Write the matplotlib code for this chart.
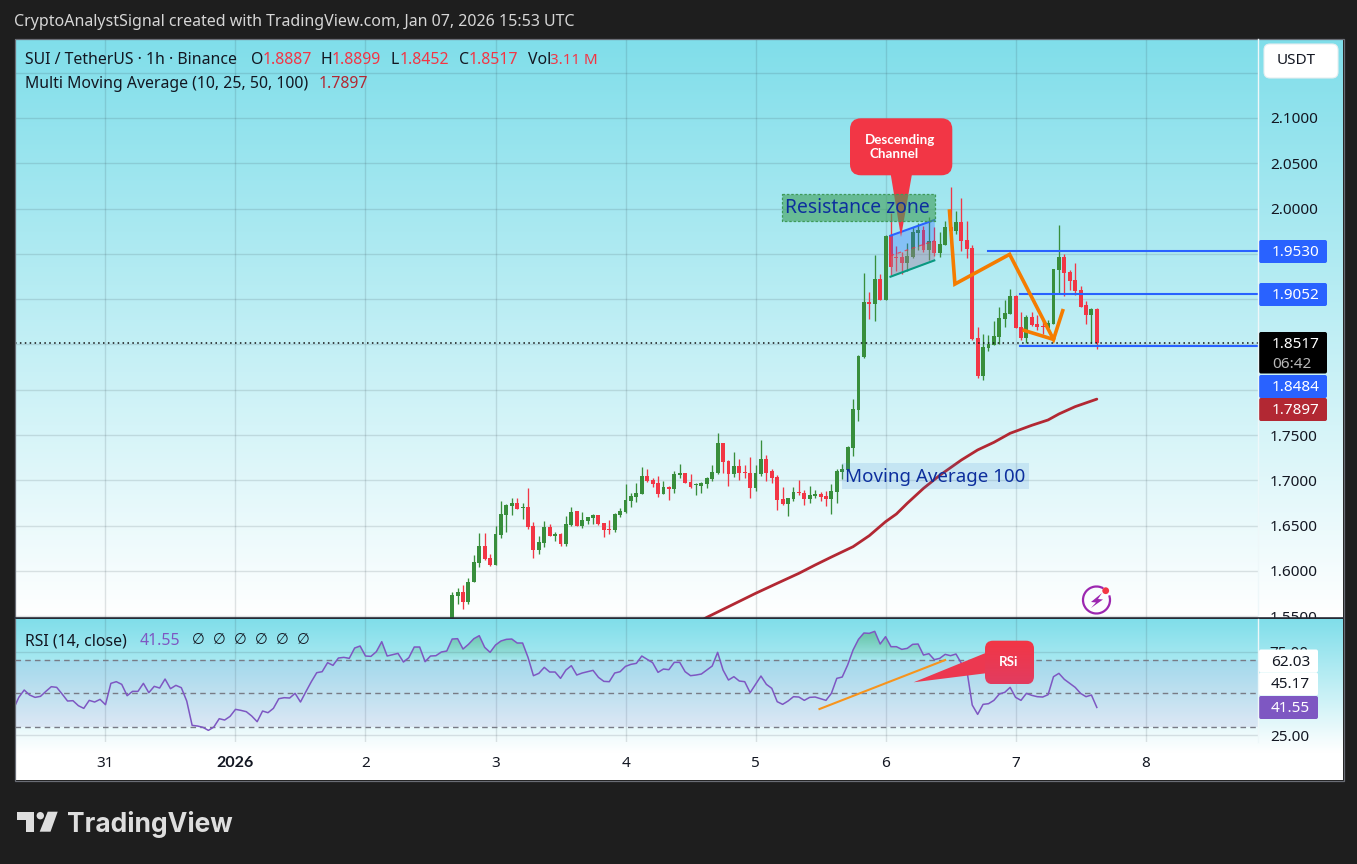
import numpy as np
import matplotlib
matplotlib.use("Agg")
import matplotlib.pyplot as plt
from matplotlib.patches import Rectangle, FancyBboxPatch, Polygon, Circle, Arc
from matplotlib.path import Path

W, H = 1357, 864
plt.rcParams['font.family'] = ['Noto Sans', 'DejaVu Sans']

# ---------- data (x = hours since 1 Jan 2026 00:00) ----------
first_bar_hour = 40
opens = [1.5400,1.5723,1.5767,1.5657,1.5877,1.6084,1.6275,1.6146,1.6065,1.6396,
1.6617,1.6717,1.6750,1.6695,1.6706,1.6496,1.6231,1.6308,1.6485,1.6385,
1.6407,1.6297,1.6507,1.6661,1.6496,1.6551,1.6584,1.6617,1.6529,1.6463,
1.6452,1.6617,1.6650,1.6772,1.6816,1.6849,1.7048,1.7004,1.6970,1.6849,
1.6926,1.6904,1.7059,1.7081,1.6982,1.6945,1.6937,1.6959,1.7015,1.7081,
1.7412,1.7213,1.7070,1.7158,1.7092,1.7081,1.6915,1.7070,1.7235,1.7103,
1.7037,1.6794,1.6739,1.6794,1.6871,1.6860,1.6794,1.6827,1.6849,1.6827,
1.6794,1.6871,1.7092,1.7114,1.7361,1.7777,1.8365,1.8968,1.8950,1.9222,
1.8990,1.9708,1.9465,1.9465,1.9399,1.9465,1.9730,1.9763,1.9542,1.9642,
1.9509,1.9598,1.9796,1.9752,1.9852,1.9653,1.9564,1.8571,1.8151,1.8460,
1.8494,1.8582,1.8781,1.8836,1.9035,1.8692,1.8571,1.8803,1.8725,1.8703,
1.8681,1.8725,1.9322,1.9465,1.9300,1.9211,1.9101,1.8935,1.8825,1.8887]
highs = [1.5763,1.5808,1.5844,1.5918,1.6176,1.6415,1.6415,1.6187,1.6496,1.6772,
1.6739,1.6801,1.6801,1.6746,1.6915,1.6540,1.6385,1.6551,1.6518,1.6430,
1.6418,1.6606,1.6706,1.6661,1.6650,1.6595,1.6628,1.6617,1.6529,1.6562,
1.6639,1.6694,1.6959,1.6860,1.6970,1.7147,1.7125,1.7026,1.7048,1.6993,
1.6937,1.7103,1.7180,1.7081,1.7070,1.6970,1.6982,1.7037,1.7169,1.7522,
1.7412,1.7224,1.7313,1.7235,1.7169,1.7257,1.7169,1.7445,1.7280,1.7125,
1.7059,1.6926,1.6805,1.6926,1.7004,1.6893,1.6937,1.6893,1.6871,1.6882,
1.6959,1.7125,1.7180,1.7379,1.7895,1.8384,1.9285,1.9079,1.9487,1.9277,
1.9708,1.9947,1.9587,1.9524,1.9616,1.9796,1.9837,1.9807,1.9910,1.9793,
1.9741,1.9863,2.0238,1.9973,2.0116,1.9863,1.9598,1.8692,1.8615,1.8604,
1.8759,1.8913,1.8990,1.9112,1.9046,1.8858,1.8825,1.8858,1.8825,1.8781,
1.8770,1.9333,1.9818,1.9498,1.9322,1.9399,1.9145,1.8979,1.8902,1.8899]
lows = [1.5350,1.5638,1.5583,1.5635,1.5877,1.6047,1.6120,1.6054,1.6065,1.6367,
1.6433,1.6617,1.6683,1.6573,1.6463,1.6142,1.6187,1.6264,1.6385,1.6330,
1.6275,1.6275,1.6496,1.6496,1.6474,1.6518,1.6518,1.6507,1.6374,1.6407,
1.6430,1.6595,1.6639,1.6706,1.6761,1.6849,1.6982,1.6926,1.6816,1.6849,
1.6783,1.6860,1.7026,1.6970,1.6915,1.6838,1.6860,1.6915,1.6993,1.7070,
1.7081,1.6937,1.7037,1.7004,1.7026,1.6805,1.6882,1.7048,1.6993,1.6970,
1.6672,1.6728,1.6606,1.6772,1.6838,1.6728,1.6750,1.6805,1.6772,1.6717,
1.6628,1.6750,1.7015,1.7103,1.7269,1.7656,1.8354,1.8781,1.8759,1.8990,
1.8990,1.9266,1.9311,1.9277,1.9311,1.9450,1.9542,1.9524,1.9432,1.9480,
1.9469,1.9598,1.9708,1.9715,1.9531,1.9450,1.8549,1.8129,1.8107,1.8427,
1.8494,1.8505,1.8692,1.8836,1.8681,1.8549,1.8512,1.8703,1.8659,1.8615,
1.8659,1.8725,1.9064,1.9035,1.9101,1.9046,1.8913,1.8725,1.8512,1.8452]
closes = [1.5734,1.5767,1.5657,1.5877,1.6098,1.6275,1.6128,1.6065,1.6407,1.6628,
1.6728,1.6750,1.6683,1.6706,1.6481,1.6231,1.6319,1.6485,1.6385,1.6407,
1.6297,1.6518,1.6650,1.6496,1.6562,1.6595,1.6617,1.6518,1.6452,1.6455,
1.6628,1.6661,1.6783,1.6827,1.6860,1.7048,1.6993,1.6959,1.6849,1.6926,
1.6908,1.7070,1.7081,1.6970,1.6926,1.6952,1.6970,1.7026,1.7092,1.7412,
1.7202,1.7070,1.7158,1.7081,1.7085,1.6915,1.7081,1.7235,1.7081,1.7026,
1.6783,1.6739,1.6805,1.6871,1.6864,1.6794,1.6838,1.6849,1.6816,1.6794,
1.6882,1.7103,1.7125,1.7368,1.7788,1.8373,1.8968,1.8950,1.9222,1.8990,
1.9697,1.9355,1.9458,1.9399,1.9476,1.9741,1.9763,1.9542,1.9642,1.9509,
1.9609,1.9796,1.9752,1.9852,1.9642,1.9553,1.8560,1.8151,1.8472,1.8505,
1.8593,1.8792,1.8847,1.9035,1.8681,1.8571,1.8803,1.8714,1.8692,1.8696,
1.8736,1.9333,1.9465,1.9288,1.9200,1.9090,1.8913,1.8825,1.8891,1.8517]

ma_hours = [85,87,96,100,104,107,110,114,117,120,122,124,127,130,134,137,140,143,147,150,152,155,159]
ma_values = [1.5420,1.5488,1.5753,1.5864,1.5974,1.6066,1.6154,1.6268,1.6390,1.6544,1.6629,1.6747,
             1.6912,1.7056,1.7225,1.7336,1.7420,1.7520,1.7608,1.7667,1.7733,1.7814,1.7897]

rsi_first_hour = -41
rsi_values = [40.4,47.6,52,49,47.6,48.2,51.2,54,53.6,49.6,45.4,45.6,42.6,41,45.8,44.8,46.4,43.2,56,57,
55.4,48.6,51.2,51.2,56,50.4,54.2,53.2,58.6,52.8,54.8,53.4,45.4,30.8,30.4,29.6,27.8,29.8,34.8,34,
36.2,40.4,39.8,39,36.4,33,39.4,38.4,41,46.8,47.4,47.2,50,44.8,51,57,62.4,63,68.4,66.8,
71.2,71.6,71,77.2,78.4,72.4,72.2,75,81,72.4,73.2,74,68.8,71.4,77.8,77.8,69,72.4,72.6,74.8,
75.4,82.6,82.8,76.6,79.4,82.8,84.6,77.6,74.6,79,81.4,82.4,82.6,80.2,80.2,71.6,60.6,62,65.6,62.8,62.8,
59,64,66.6,61,62.2,63,63.8,59.6,57.2,57,62.2,63,66.2,67.4,68,72.4,70.4,68.4,62.6,64.6,
64.2,68.6,68.6,63,60.6,61,61.6,64,66.4,74.6,64,58,60,57.4,57,50.4,55.4,60.4,55.4,53,
45,43.4,45.4,48,47.8,45.8,47.6,47.8,46.8,45.8,50,59,59.8,67,76,82.4,86.2,86,87.2,79.6,
84,78,78,76.4,77,79.4,79.6,73,73.8,70.2,71,73.4,72.6,73.6,68,64,43,37.4,43.4,43.8,
45.8,49.6,50.6,53.6,47.6,45.8,50,48.8,48,47.8,49.2,60,62,58.4,56,53.6,50,48,49,41.55]

day_hours = [-24,0,24,48,72,96,120,144,168]
day_labels = ['31','2026','2','3','4','5','6','7','8']
price_ticks = [1.55,1.60,1.65,1.70,1.75,1.80,1.85,1.90,1.95,2.00,2.05,2.10,2.15]
price_tick_labels = ['1.5500','1.6000','1.6500','1.7000','1.7500','','','','','2.0000','2.0500','2.1000','']

level_prices = [1.9530,1.9052,1.8484]
level_start_hours = [139.0,144.9,144.9]
zigzag_hours = [131.8,132.8,142.9,151.0,152.7]
zigzag_prices = [1.9973,1.9167,1.9495,1.8556,1.8873]
leg_hours = [145.6,151.0]
leg_prices = [1.8655,1.8556]
channel_hours = [120.9,129.0]
channel_top = [1.9701,1.9874]
channel_mid = [1.9480,1.9645]
channel_bot = [1.9248,1.9428]
rsi_trend_hours = [107.8,131.0]
rsi_trend_values = [40.6,70.0]

# ---------- styles ----------
GREEN, RED = '#388e3c', '#f23645'
BLUE, MAROON, PURPLE = '#2962ff', '#b22833', '#7e57c2'
ORANGE = '#f57c00'
NAVY = '#0d2f9e'
INK = '#131722'
TEAL_TOP = np.array([128, 222, 234]) / 255
BOLD = ['Lato', 'DejaVu Sans']

fig = plt.figure(figsize=(W / 100, H / 100), dpi=100, facecolor='#1e1e1e')

def axpx(x0, y0, x1, y1, z):
    a = fig.add_axes([x0 / W, 1 - y1 / H, (x1 - x0) / W, (y1 - y0) / H], zorder=z)
    return a

def gradient(a, ramp_frac):
    t = np.clip(np.linspace(0, 1, 400) / ramp_frac, 0, 1)[:, None, None]
    img = TEAL_TOP[None, None, :] * (1 - t) + t
    a.imshow(img, aspect='auto', extent=(0, 1, 0, 1), interpolation='bilinear')
    a.axis('off')

bg_main = axpx(15, 39, 1343, 618, 0); gradient(bg_main, 1.0)
bg_rsi = axpx(15, 619, 1343, 780, 2); gradient(bg_rsi, 133 / 161)

HMIN, HMAX = -40.7, 188.75
GRID_COLOR = '#2a3a44'
GRID_ALPHA = 0.14

# ---------- price pane ----------
ax = axpx(15, 39, 1258, 618, 1)
ax.patch.set_alpha(0)
ax.set_xlim(HMIN, HMAX)
ax.set_ylim(1.5481, 2.1872)
ax.set_xticks(day_hours); ax.set_xticklabels([])
ax.yaxis.tick_right()
ax.set_yticks(price_ticks); ax.set_yticklabels(price_tick_labels, fontsize=11, color=INK)
ax.tick_params(length=0, pad=8.5)
ax.grid(True, color=GRID_COLOR, alpha=GRID_ALPHA, lw=1)
ax.set_axisbelow(True)
for s in ax.spines.values():
    s.set_visible(False)

hours = np.arange(first_bar_hour, first_bar_hour + len(closes))
o, h, l, c = map(np.array, (opens, highs, lows, closes))
colors = [GREEN if ce >= op else RED for op, ce in zip(o, c)]
ax.vlines(hours, l, h, colors=colors, lw=0.95, zorder=3)
ax.bar(hours, np.maximum(np.abs(c - o), 0.0012), bottom=np.minimum(o, c), width=0.72,
       color=colors, lw=0, zorder=3)

ax.plot(ma_hours, ma_values, color=MAROON, lw=2.0, zorder=4, solid_capstyle='round')
ax.axhline(closes[-1], color='#111111', lw=1.1, ls=(0, (1, 2.2)), zorder=4)

for p, s in zip(level_prices, level_start_hours):
    ax.plot([s, HMAX], [p, p], color=BLUE, lw=1.5, zorder=5)

# channel
ax.fill_between(channel_hours, channel_mid, channel_top, color=BLUE, alpha=0.3, lw=0, zorder=4)
ax.fill_between(channel_hours, channel_bot, channel_mid, color='#9c7fa0', alpha=0.42, lw=0, zorder=4)
ax.plot(channel_hours, channel_top, color=BLUE, lw=1.5, zorder=5)
ax.plot(channel_hours, channel_bot, color='#089981', lw=1.5, zorder=5)
ax.plot(channel_hours, channel_mid, color=RED, lw=0.9, ls=(0, (3, 3)), alpha=0.8, zorder=5)

ax.plot(zigzag_hours, zigzag_prices, color=ORANGE, lw=2.6, zorder=6, solid_joinstyle='miter')
ax.plot(leg_hours, leg_prices, color=ORANGE, lw=2.6, zorder=6)

# ---------- RSI pane ----------
rx = axpx(15, 619, 1258, 742, 3)
rx.patch.set_alpha(0)
rx.set_xlim(HMIN, HMAX)
rsi_low = 30 - (742 - 726.7) / 1.667
rsi_high = 30 + (726.7 - 619) / 1.667
rx.set_ylim(rsi_low, rsi_high)
rx.set_xticks(day_hours); rx.set_xticklabels(day_labels, fontsize=11, color=INK)
rx.get_xticklabels()[1].set_fontfamily(BOLD)
rx.get_xticklabels()[1].set_fontweight('bold')
rx.get_xticklabels()[1].set_fontsize(11.5)
rx.yaxis.tick_right()
rx.set_yticks([25, 75]); rx.set_yticklabels(['25.00', '75.00'], fontsize=11, color=INK)
rx.tick_params(length=0)
rx.tick_params(axis='x', pad=10)
rx.tick_params(axis='y', pad=8.5)
rx.grid(True, color=GRID_COLOR, alpha=GRID_ALPHA, lw=1)
rx.set_axisbelow(True)
for s in rx.spines.values():
    s.set_visible(False)

rsi_hours = np.arange(rsi_first_hour, rsi_first_hour + len(rsi_values))
rsi = np.array(rsi_values)
rx.axhspan(30, 70, color=PURPLE, alpha=0.1, lw=0, zorder=1)
for lev in (30, 50, 70):
    rx.axhline(lev, color='#787b86', lw=1, ls=(0, (4, 3)), zorder=2)

fill = rx.fill_between(rsi_hours, rsi, 70, where=rsi > 70, interpolate=True, color='none', lw=0)
clip = Path.make_compound_path(*fill.get_paths())
grad = np.zeros((100, 1, 4))
grad[..., :3] = matplotlib.colors.to_rgb('#43a860')
grad[..., 3] = np.linspace(0.6, 0.02, 100)[:, None]
im = rx.imshow(grad, aspect='auto', extent=(HMIN, HMAX, 70, 90), zorder=2, interpolation='bilinear')
im.set_clip_path(clip, rx.transData)
rx.set_xlim(HMIN, HMAX); rx.set_ylim(rsi_low, rsi_high)

rx.plot(rsi_hours, rsi, color=PURPLE, lw=1.1, zorder=4)
rx.plot(rsi_trend_hours, rsi_trend_values, color='#f7941d', lw=1.5, zorder=5)

# ---------- overlay chrome, in pixels ----------
ov = fig.add_axes([0, 0, 1, 1], zorder=4)
ov.patch.set_alpha(0)
ov.set_xlim(0, W); ov.set_ylim(H, 0)
ov.axis('off')

ov.add_patch(Rectangle((14.5, 38.5), 1329, 742, fill=False, ec='#6a6d75', lw=0.9))
ov.plot([1258, 1258], [39, 742], color='#eef7f9', lw=1)
ov.plot([15, 1343], [618.3, 618.3], color='#2a2e39', lw=1.2)

FONT_TV = 11.4
def t(x, y, s, color=INK, size=FONT_TV, **k):
    k.setdefault('ha', 'left')
    k.setdefault('va', 'center')
    return ov.text(x, y, s, color=color, fontsize=size, **k)

t(14, 22, 'CryptoAnalystSignal created with TradingView.com, Jan 07, 2026 15:53 UTC',
  color='#d6d6d6', size=11.5)

t(25, 60.5, 'SUI / TetherUS · 1h · Binance')
for x, lab, xv, val in [(251, 'O', 263, opens[-1]), (321, 'H', 332, highs[-1]),
                        (391, 'L', 400, lows[-1]), (458.5, 'C', 469, closes[-1])]:
    t(x, 60.5, lab)
    t(xv, 60.5, f'{val:.4f}', color=RED)
t(528, 60.5, 'Vol')
t(550, 60.5, '3.11 M', color=RED, size=10.9)
t(25, 84.5, 'Multi Moving Average (10, 25, 50, 100)')
t(319, 84.5, f'{ma_values[-1]:.4f}', color=MAROON)
t(25, 641, 'RSI (14, close)')
t(140, 641, f'{rsi_values[-1]:.2f}', color=PURPLE)
for i in range(6):
    t(192 + i * 21, 641, '∅', size=10.5)

# USDT selector
ov.add_patch(FancyBboxPatch((1264, 44), 74, 34, boxstyle='round,pad=0,rounding_size=6',
                            fc='white', ec='#e6eef0', lw=0.8))
t(1296, 61, 'USDT', ha='center', size=11)

def tag(y0, y1, color, text, right=1327, txt='white', xt=1272, yt=None):
    ov.add_patch(FancyBboxPatch((1259, y0), right - 1259, y1 - y0,
                                boxstyle='round,pad=0,rounding_size=2', fc=color, ec='none'))
    t(xt, (y0 + y1) / 2 + 1 if yt is None else yt, text, color=txt, size=11)

tag(240, 263, BLUE, f'{level_prices[0]:.4f}')
tag(283, 306, BLUE, f'{level_prices[1]:.4f}')
tag(332, 373.5, '#000000', f'{closes[-1]:.4f}', yt=344)
t(1272, 364, '06:42', color='#b8b8b8', size=11)
tag(375, 398, BLUE, f'{level_prices[2]:.4f}')
tag(398, 421, MAROON, f'{ma_values[-1]:.4f}')
tag(649.5, 672.5, 'white', '62.03', right=1318, txt=INK, xt=1271)
tag(672.5, 695.5, 'white', '45.17', right=1318, txt=INK, xt=1271)
tag(696, 719, PURPLE, f'{rsi_values[-1]:.2f}', right=1318, xt=1271)

# Descending Channel callout
ov.add_patch(Polygon([(890, 170), (912.7, 170), (901, 237)], fc=RED, ec='none', zorder=5))
ov.add_patch(FancyBboxPatch((850, 118.3), 102.3, 57, boxstyle='round,pad=0,rounding_size=11',
                            fc=RED, ec='none', zorder=5))
t(865, 139.5, 'Descending', color='white', size=9.6, family=BOLD, weight='bold', zorder=6)
t(869, 153.5, 'Channel', color='white', size=9.6, family=BOLD, weight='bold', zorder=6)

# Resistance zone
ov.add_patch(Rectangle((782.3, 194.3), 152.7, 26.4, fc=(0.26, 0.63, 0.37, 0.62),
                       ec='#3f9a5a', lw=0.9, ls=(0, (2, 1.5)), zorder=7))
t(785, 208, 'Resistance zone', color=NAVY, size=13.9, zorder=8)

# Moving Average label
ov.add_patch(Rectangle((842.3, 463.3), 186.7, 25.7, fc=(0.13, 0.45, 0.8, 0.13), ec='none', zorder=5))
t(845, 476.5, 'Moving Average 100', color=NAVY, size=13.5, zorder=6)

# RSI callout with a faint vertical gradient
tail = Polygon([(988, 652), (988, 673), (913.6, 682.3)], fc='#ec3850', ec='none', zorder=5)
ov.add_patch(tail)
box = FancyBboxPatch((985, 640.7), 49, 43.6, boxstyle='round,pad=0,rounding_size=8',
                     fc='none', ec='none', zorder=5)
ov.add_patch(box)
g = np.zeros((50, 1, 3))
g[..., :] = np.linspace(0, 1, 50)[:, None, None] * (np.array([226, 60, 96]) / 255 - np.array([242, 54, 69]) / 255) \
    + np.array([242, 54, 69]) / 255
gi = ov.imshow(g, aspect='auto', extent=(985, 1034, 684.3, 640.7), zorder=5)
gi.set_clip_path(box)
ov.set_xlim(0, W); ov.set_ylim(H, 0)
t(1009, 662.5, 'RSi', color='white', size=9.6, family=BOLD, weight='bold', ha='center', zorder=6)

# bolt badge
ov.add_patch(Arc((1096.5, 600), 27, 27, theta1=-20, theta2=300, color='#9c27b0', lw=1.6))
ov.add_patch(Polygon([(1102, 593), (1091, 602), (1096, 602.5), (1091, 608), (1103, 599.5), (1098, 599)],
                     fc='#9c27b0', ec='none'))
ov.add_patch(Circle((1105.7, 590.7), 3.4, fc=RED, ec='none'))

# TradingView logo
LOGO = '#dedede'
ov.add_patch(Polygon([(16.7, 811.7), (34.3, 811.7), (34.3, 831.7), (25.5, 831.7), (25.5, 820), (16.7, 820)],
                     fc=LOGO, ec='none'))
ov.add_patch(Circle((40.3, 815.7), 3.7, fc=LOGO, ec='none'))
ov.add_patch(Polygon([(47.7, 811.7), (57.7, 811.7), (50.5, 831.7), (39.7, 831.7)], fc=LOGO, ec='none'))
t(67.5, 824, 'TradingView', color=LOGO, size=19, family=['Inter', 'DejaVu Sans'], weight='bold')

fig.savefig('out.png', dpi=100, facecolor=fig.get_facecolor())
